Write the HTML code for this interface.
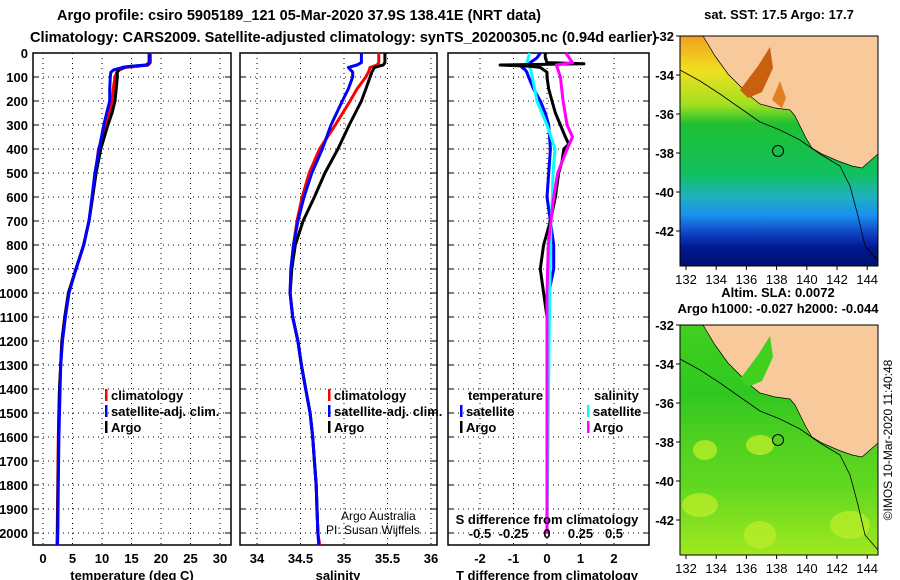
<!DOCTYPE html>
<html><head><meta charset="utf-8">
<style>
html,body{margin:0;padding:0;background:#fff;}
svg{display:block;font-family:"Liberation Sans",sans-serif;font-weight:bold;}
</style></head>
<body>
<svg id="chart" width="900" height="580" viewBox="0 0 900 580" xmlns="http://www.w3.org/2000/svg">
<text x="57" y="20" font-size="15" textLength="484" lengthAdjust="spacingAndGlyphs">Argo profile: csiro 5905189_121 05-Mar-2020 37.9S 138.41E (NRT data)</text>
<text x="30" y="42" font-size="15" textLength="627" lengthAdjust="spacingAndGlyphs">Climatology: CARS2009. Satellite-adjusted climatology: synTS_20200305.nc (0.94d earlier)</text>
<g id="plots"></g>
<g id="maps"></g>
</svg>
<script>
// ---- data ----
const tempDepths = [0,40,50,55,60,70,80,100,150,200,250,300,400,500,600,700,800,900,1000,1100,1200,1300,1400,1500,1600,1800,2000,2050];
const tempArgo = [18.0,18.0,17.5,15,13.5,12.8,12.6,12.6,12.4,12.2,11.7,11.0,9.8,9.0,8.4,7.8,6.9,5.6,4.3,3.7,3.2,3.0,2.8,2.7,2.65,2.55,2.45,null];
const tempClim = [18.2,18.2,17.8,16,14,13.0,12.5,12.2,11.9,11.7,11.3,10.8,9.4,8.9,8.4,7.8,6.9,5.6,4.3,3.7,3.2,3.0,2.8,2.7,2.6,2.5,2.4,2.35];
const tempSat = [18.0,18.0,17.8,15,13.5,12.0,11.5,11.4,11.3,11.3,10.8,10.3,9.5,8.8,8.3,7.8,6.9,5.6,4.4,3.8,3.3,3.0,2.9,2.8,2.7,2.6,2.5,2.45];

const salDepths = [0,40,50,60,80,100,150,200,300,400,500,600,700,800,900,1000,1100,1200,1300,1400,1500,1600,1700,1800,1900,2000,2050];
const salArgo = [35.47,35.47,35.45,35.35,35.32,35.3,35.25,35.2,35.06,34.93,34.78,34.66,34.53,34.44,34.40,34.38,34.41,34.47,34.51,34.56,34.61,34.64,34.66,34.68,34.69,34.70,null];
const salClim = [35.4,35.4,35.38,35.3,35.28,35.25,35.15,35.07,34.9,34.72,34.6,34.52,34.46,34.42,34.39,34.38,34.41,34.47,34.51,34.56,34.61,34.64,34.66,34.68,34.69,34.7,34.72];
const salSat = [35.2,35.2,35.15,35.05,35.1,35.1,35.05,34.98,34.85,34.75,34.63,34.54,34.47,34.42,34.39,34.38,34.41,34.47,34.51,34.56,34.61,34.64,34.66,34.68,34.69,34.70,34.71];

const tdDepthsArgo = [0,20,40,45,50,55,60,70,80,100,150,200,250,300,350,380,400,450,500,600,700,800,900,1000,1100,1200,1500,2000];
const tdArgo = [-0.05,-0.05,0,1.1,-1.4,-0.5,-0.2,-0.1,0,0,0.05,0.15,0.25,0.4,0.55,0.65,0.5,0.45,0.35,0.25,0.1,-0.1,-0.2,-0.1,0,0,0,0];
const tdDepthsSat = [0,20,40,50,60,70,80,100,150,200,250,300,400,500,600,700,800,900,1000,1200,2000];
const tdSat = [-0.2,-0.3,-0.5,-0.6,-0.75,-0.65,-0.6,-0.55,-0.4,-0.2,-0.05,0.05,0.1,0.05,0,0.1,0.2,0.2,0.05,0,0];
const sdDepthsSat = [0,40,70,100,200,300,400,500,600,700,1000,1500,2000];
const sdSat = [-0.13,-0.15,-0.12,-0.11,-0.075,0,0.06,0.045,0.04,0.03,0.02,0.01,0];
const sdDepthsArgo = [0,40,50,100,150,200,300,350,400,500,600,700,800,1000,2000];
const sdArgo = [0.14,0.19,0.07,0.1,0.11,0.12,0.15,0.19,0.15,0.08,0.05,0.03,0.01,0,0];

const depthTicks = [0,100,200,300,400,500,600,700,800,900,1000,1100,1200,1300,1400,1500,1600,1700,1800,1900,2000];
const tempTicks = [0,5,10,15,20,25,30];
const salTicks = [34,34.5,35,35.5,36];
const tdTicks = [-2,-1,0,1,2];
const sdTicks = [-0.5,-0.25,0,0.25,0.5];
const latTicks = [-32,-34,-36,-38,-40,-42];
const lonTicks = [132,134,136,138,140,142,144];

// ---- helpers ----
const NS = "http://www.w3.org/2000/svg";
function mk(tag, attrs, parent, txt){ const e=document.createElementNS(NS,tag); for(const k in attrs) e.setAttribute(k,attrs[k]); if(txt!==undefined) e.textContent=txt; parent.appendChild(e); return e; }
const yD = d => 53 + d*0.24;
const plots = document.getElementById('plots');
const maps = document.getElementById('maps');

const panels = [
 {name:'temperature-panel', x0:33, x1:231, sx:v=>43+v*5.9, ticks:tempTicks, lab:'temperature (deg C)', labx:132, depthLabels:true},
 {name:'salinity-panel', x0:240, x1:437, sx:v=>257+(v-34)*87, ticks:salTicks, lab:'salinity', labx:338},
 {name:'difference-panel', x0:448, x1:649, sx:v=>547+v*33.5, ticks:tdTicks, lab:'T difference from climatology', labx:547}
];
panels.forEach(p=>{
  const g = mk('g',{},plots);
  
  
  depthTicks.forEach(d=>{
    const y=yD(d);
    const l=mk('line',{x1:p.x0,x2:p.x1,y1:y,y2:y,stroke:'#000','stroke-width':1,'stroke-dasharray':'1 4'},g);
    
    
    mk('line',{x1:p.x0,x2:p.x0+6,y1:y,y2:y,stroke:'#000'},g);
    mk('line',{x1:p.x1-6,x2:p.x1,y1:y,y2:y,stroke:'#000'},g);
    if(p.depthLabels){
      const t=mk('text',{x:28,y:y+5,'font-size':13,'text-anchor':'end'},g,String(d));
      
      
    }
  });
  p.ticks.forEach(v=>{
    const x=p.sx(v);
    mk('line',{x1:x,x2:x,y1:53,y2:545,stroke:'#000','stroke-dasharray':'1 4'},g);
    const t=mk('text',{x:x,y:563,'font-size':13,'text-anchor':'middle'},g,String(v));
    
    
  });
  const r=mk('rect',{x:p.x0,y:53,width:p.x1-p.x0,height:492,fill:'none',stroke:'#000','stroke-width':1.5},g);
  
  
  const t=mk('text',{x:p.labx,y:580,'font-size':13,'text-anchor':'middle'},g,p.lab);
  
  
  p.g=g;
});

function line(g, depths, vals, sx, color, w, name){
  let pts=[];
  depths.forEach((d,i)=>{ if(vals[i]!==null) pts.push(sx(vals[i]).toFixed(1)+','+yD(d).toFixed(1)); });
  const pl=mk('polyline',{points:pts.join(' '),fill:'none',stroke:color,'stroke-width':w,'stroke-linejoin':'round'},g);
  
  
}
const P=panels;
line(P[0].g,tempDepths,tempClim,P[0].sx,'#f00',3,'temp-climatology-line');
line(P[0].g,tempDepths,tempArgo,P[0].sx,'#000',3,'temp-argo-line');
line(P[0].g,tempDepths,tempSat,P[0].sx,'#00f',3,'temp-satellite-line');
line(P[1].g,salDepths,salClim,P[1].sx,'#f00',3,'salinity-climatology-line');
line(P[1].g,salDepths,salArgo,P[1].sx,'#000',3,'salinity-argo-line');
line(P[1].g,salDepths,salSat,P[1].sx,'#00f',3,'salinity-satellite-line');
const sdx = v=>547+v*134;
line(P[2].g,tdDepthsSat,tdSat,P[2].sx,'#00f',3,'tdiff-satellite-line');
line(P[2].g,sdDepthsSat,sdSat,sdx,'#0ff',3,'sdiff-satellite-line');
line(P[2].g,tdDepthsArgo,tdArgo,P[2].sx,'#000',3,'tdiff-argo-line');
line(P[2].g,sdDepthsArgo,sdArgo,sdx,'#f0f',3,'sdiff-argo-line');

// S diff inner labels
const sdt=mk('text',{x:547,y:524,'font-size':13,'text-anchor':'middle'},P[2].g,'S difference from climatology');


sdTicks.forEach(v=>{
  const t=mk('text',{x:sdx(v),y:538,'font-size':13,'text-anchor':'middle'},P[2].g,String(v));
  
  
});

// legends
function legend(g,x,y,color,label){
  const lg=mk('g',{},g);
  
  
  if(color) mk('rect',{x:x,y:y-11,width:2.5,height:12,fill:color},lg);
  mk('text',{x:x+6,y:y,'font-size':13},lg,label);
}
legend(P[0].g,105,400,'#f00','climatology');
legend(P[0].g,105,416,'#00f','satellite-adj. clim.');
legend(P[0].g,105,432,'#000','Argo');
legend(P[1].g,328,400,'#f00','climatology');
legend(P[1].g,328,416,'#00f','satellite-adj. clim.');
legend(P[1].g,328,432,'#000','Argo');
legend(P[2].g,462,400,null,'temperature');
legend(P[2].g,460,416,'#00f','satellite');
legend(P[2].g,460,432,'#000','Argo');
legend(P[2].g,588,400,null,'salinity');
legend(P[2].g,587,416,'#0ff','satellite');
legend(P[2].g,587,432,'#f0f','Argo');
const cr=mk('text',{x:341,y:520,'font-size':12,'font-weight':'normal'},P[1].g,'Argo Australia');


const cr2=mk('text',{x:326,y:534,'font-size':12,'font-weight':'normal'},P[1].g,'PI: Susan Wijffels');



// ---- maps ----
function drawMap(y0, kind, name){
  const g=mk('g',{},maps);
  
  
  const id='grad'+kind;
  const defs=mk('defs',{},g);
  const lg=mk('linearGradient',{id:id,x1:0,y1:0,x2:0,y2:1},defs);
  const stops = kind==='sst'
    ? [[0,'#f0a020'],[0.15,'#f0e020'],[0.3,'#a0e020'],[0.38,'#20c030'],[0.6,'#10c060'],[0.7,'#20b0c0'],[0.78,'#1890f0'],[0.86,'#1040c0'],[0.92,'#001890'],[1,'#001070']]
    : [[0,'#40d020'],[0.3,'#30c820'],[0.5,'#50d020'],[0.7,'#60d820'],[0.85,'#80e020'],[1,'#a0e820']];
  stops.forEach(s=>mk('stop',{offset:s[0],'stop-color':s[1]},lg));
  mk('rect',{x:680,y:y0,width:198,height:230,fill:'url(#'+id+')'},g);
  if(kind==='sla'){
    [[700,y0+180,18,12],[760,y0+120,14,10],[850,y0+200,20,14],[760,y0+210,16,14],[705,y0+125,12,10]].forEach(b=>mk('ellipse',{cx:b[0],cy:b[1],rx:b[2],ry:b[3],fill:'#b8ec28',opacity:0.8},g));
  }
  const land=[[703,0],[715,20],[728,38],[742,52],[750,60],[760,68],[775,72],[790,74],[795,80],[800,90],[806,102],[812,112],[822,118],[838,125],[852,130],[862,132],[870,125],[878,118],[878,0]];
  mk('polygon',{points:land.map(p=>p[0]+','+(p[1]+y0)).join(' '),fill:'#f8c99a',stroke:'#000','stroke-width':0.7},g);
  if(kind==='sst'){
    mk('polygon',{points:[[740,y0+54],[758,y0+30],[770,y0+11],[773,y0+32],[762,y0+56],[748,y0+62]].map(p=>p.join(',')).join(' '),fill:'#c86010'},g);
    mk('polygon',{points:[[772,y0+64],[780,y0+45],[786,y0+62],[782,y0+72]].map(p=>p.join(',')).join(' '),fill:'#e08020'},g);
  } else {
    mk('polygon',{points:[[740,y0+54],[758,y0+30],[770,y0+11],[773,y0+32],[762,y0+56],[748,y0+62]].map(p=>p.join(',')).join(' '),fill:'#40d020'},g);
  }
  mk('polyline',{points:[[680,y0+34],[700,y0+45],[720,y0+58],[740,y0+72],[760,y0+86],[780,y0+94],[800,y0+104],[820,y0+118],[840,y0+130],[850,y0+150],[858,y0+180],[865,y0+210],[878,y0+225]].map(p=>p.join(',')).join(' '),fill:'none',stroke:'#000','stroke-width':0.8},g);
  const c=mk('circle',{cx:778,cy:y0+115,r:5.5,fill:'none',stroke:'#000','stroke-width':1},g);
  
  
  mk('rect',{x:680,y:y0,width:198,height:230,fill:'none',stroke:'#000'},g);
  latTicks.forEach(v=>{
    const y=y0+(-32-v)*19.5;
    mk('line',{x1:676,x2:680,y1:y,y2:y,stroke:'#000'},g);
    const t=mk('text',{x:674,y:y+5,'font-size':13,'text-anchor':'end'},g,String(v));
    
    
  });
  lonTicks.forEach(v=>{
    const x=686+(v-132)*15.1;
    mk('line',{x1:x,x2:x,y1:y0+230,y2:y0+234,stroke:'#000'},g);
    const t=mk('text',{x:x,y:y0+248,'font-size':13,'text-anchor':'middle','font-weight':'normal'},g,String(v));
    
    
  });
}
drawMap(36,'sst','sst-map');
drawMap(325,'sla','sla-map');
const mt=[['sat. SST: 17.5 Argo: 17.7',779,19,'sst-map-title'],['Altim. SLA: 0.0072',778,297,'sla-value-text'],['Argo h1000: -0.027 h2000: -0.044',778,313,'argo-height-text']];
mt.forEach(m=>{
  const t=mk('text',{x:m[1],y:m[2],'font-size':13,'text-anchor':'middle'},maps,m[0]);
  
  
});
const imos=mk('text',{x:0,y:0,'font-size':12,'font-weight':'normal','text-anchor':'middle',transform:'translate(892,440) rotate(-90)'},maps,'©IMOS 10-Mar-2020 11:40:48');


</script>
</body></html>
